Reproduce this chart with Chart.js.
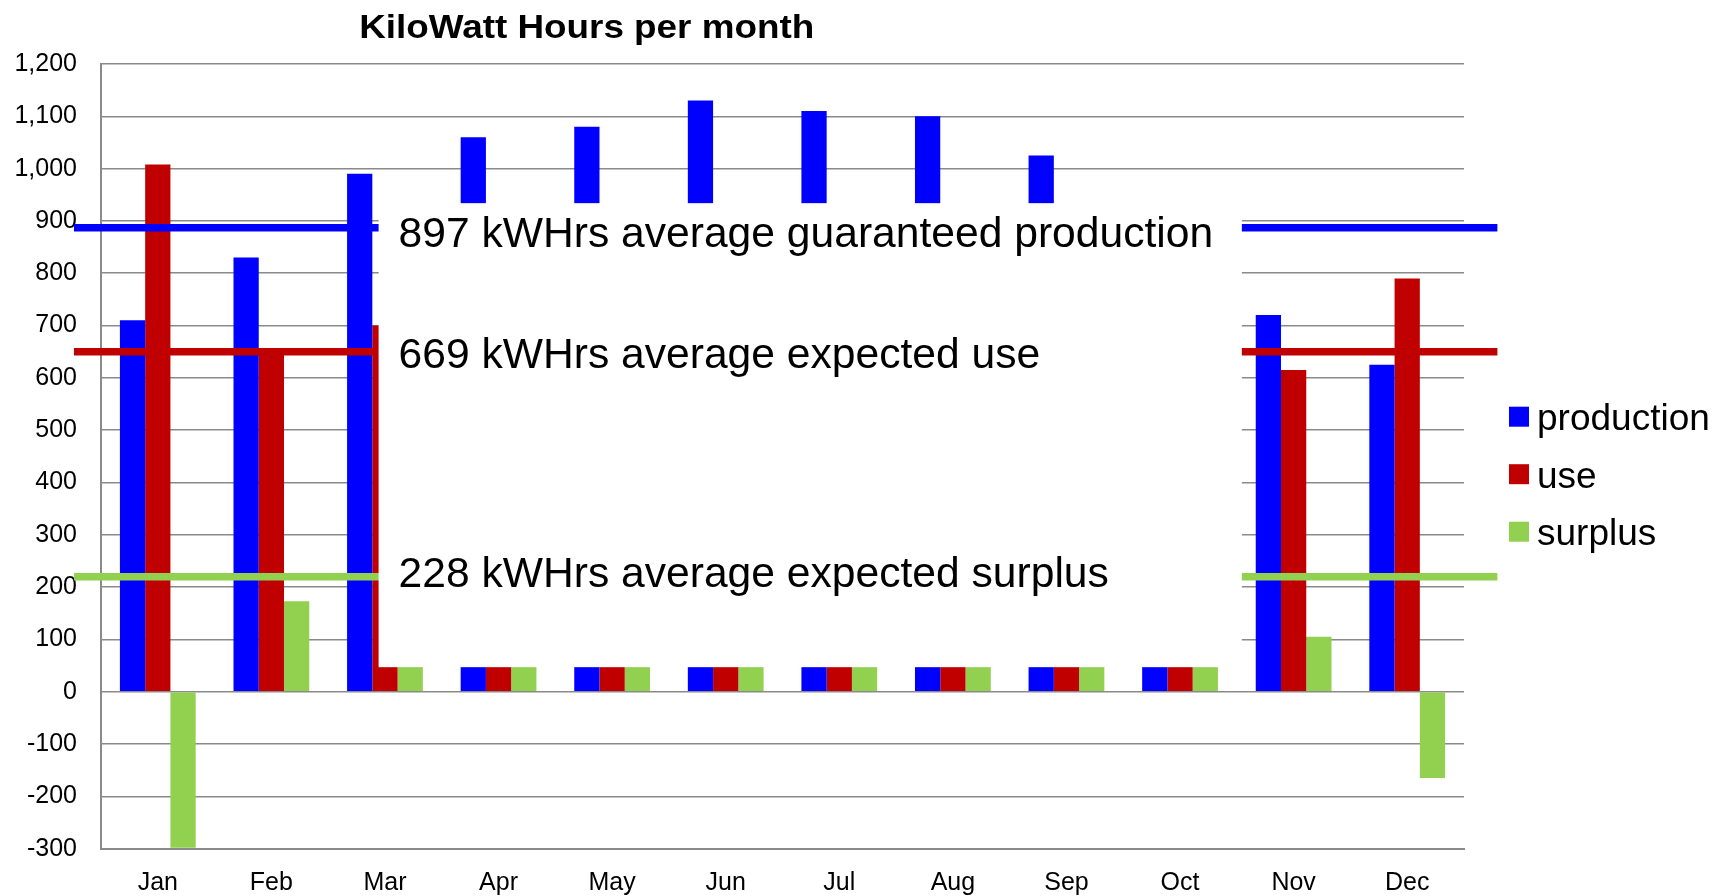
<!DOCTYPE html>
<html>
<head>
<meta charset="utf-8">
<script src="https://cdn.jsdelivr.net/npm/chart.js@4"></script>
<style>
  html, body { margin: 0; padding: 0; background: #fff; }
  #wrap { width: 1717px; height: 896px; }
</style>
</head>
<body>
<div id="wrap"><canvas id="myChart" width="1717" height="896"></canvas></div>
<script>
const months = ['Jan', 'Feb', 'Mar', 'Apr', 'May', 'Jun', 'Jul', 'Aug', 'Sep', 'Oct', 'Nov', 'Dec'];
const production = [710, 830, 990, 1060, 1080, 1130, 1110, 1100, 1025, 900, 720, 625];
const use = [1008, 657, 700, 580, 610, 640, 700, 690, 600, 560, 615, 790];
const surplus = [-298, 173, 290, 480, 470, 490, 410, 410, 425, 340, 105, -165];
const seriesNames = ['production', 'use', 'surplus'];

// average lines (value where drawn) and their captions
const avgValues = [887, 650, 220];
const avgLabels = [
    '897 kWHrs average guaranteed production',
    '669 kWHrs average expected use',
    '228 kWHrs average expected surplus'
];
const avgLabelBaselines = [851, 619, 200];

const yMin = -300, yMax = 1200, yStep = 100;

const FONT = "'Liberation Sans', Arial, Helvetica, sans-serif";
const colors = ['#0000ff', '#c00000', '#92d050'];

// white panel that hides the middle of the chart (category index / value units)
const panel = { xFrom: 1.944, xTo: 9.544, yFrom: 47, yTo: 934 };
const lineSpan = { xFrom: -0.738, xTo: 11.794 };

const overlay = {
    id: 'overlay',
    afterDatasetsDraw(chart) {
        const ctx = chart.ctx;
        const x = chart.scales.x, y = chart.scales.y;
        ctx.save();
        // average lines
        ctx.lineWidth = 7.5;
        avgValues.forEach((v, i) => {
            const py = y.getPixelForValue(v);
            ctx.strokeStyle = colors[i];
            ctx.beginPath();
            ctx.moveTo(x.getPixelForValue(lineSpan.xFrom), py);
            ctx.lineTo(x.getPixelForValue(lineSpan.xTo), py);
            ctx.stroke();
        });
        // white panel
        const left = x.getPixelForValue(panel.xFrom);
        const right = x.getPixelForValue(panel.xTo);
        const top = y.getPixelForValue(panel.yTo);
        const bottom = y.getPixelForValue(panel.yFrom);
        ctx.fillStyle = '#ffffff';
        ctx.fillRect(left, top, right - left, bottom - top);
        // captions
        ctx.fillStyle = '#000';
        ctx.font = '42.6px ' + FONT;
        ctx.textBaseline = 'alphabetic';
        ctx.textAlign = 'left';
        avgLabels.forEach((t, i) => {
            ctx.fillText(t, left + 20, y.getPixelForValue(avgLabelBaselines[i]));
        });
        ctx.restore();
    },
    afterDraw(chart) {
        const ctx = chart.ctx;
        ctx.save();
        // title
        ctx.font = 'bold 34px ' + FONT;
        ctx.fillStyle = '#000';
        ctx.textBaseline = 'alphabetic';
        ctx.textAlign = 'center';
        const title = 'KiloWatt Hours per month';
        const w = ctx.measureText(title).width;
        ctx.translate(586.7, 38);
        ctx.scale(455 / w, 1);
        ctx.fillText(title, 0, 0);
        ctx.restore();

        // legend
        ctx.save();
        ctx.font = '37px ' + FONT;
        ctx.textAlign = 'left';
        ctx.textBaseline = 'alphabetic';
        const lx = chart.chartArea.right + 45;
        chart.data.datasets.forEach((ds, i) => {
            const cy = 416.7 + i * 57.5;
            ctx.fillStyle = ds.backgroundColor;
            ctx.fillRect(lx, cy - 10, 20, 20);
            ctx.fillStyle = '#000';
            ctx.fillText(ds.label, lx + 28, cy + 13.3);
        });
        ctx.restore();
    }
};

const data = {
    labels: months,
    datasets: [
        { label: seriesNames[0], data: production, backgroundColor: colors[0] },
        { label: seriesNames[1], data: use, backgroundColor: colors[1] },
        { label: seriesNames[2], data: surplus, backgroundColor: colors[2] }
    ]
};

const config = {
    type: 'bar',
    data: data,
    plugins: [overlay],
    options: {
        responsive: false,
        animation: false,
        layout: { padding: { top: 64, right: 253, left: 0, bottom: 0 } },
        datasets: {
            bar: { barPercentage: 1, categoryPercentage: 0.667 }
        },
        plugins: {
            legend: { display: false },
            title: { display: false },
            tooltip: { enabled: false }
        },
        scales: {
            x: {
                afterFit(scale) { scale.height = 47.3; },
                grid: { display: false, drawTicks: false },
                border: { display: true, color: '#8a8a8a', width: 2 },
                ticks: { color: '#000', font: { family: FONT, size: 25 }, padding: 19 }
            },
            y: {
                min: yMin,
                max: yMax,
                afterFit(scale) { scale.width = 101; },
                grid: { color: '#8a8a8a', lineWidth: 1.6, drawTicks: false },
                border: { display: true, color: '#8a8a8a', width: 2 },
                ticks: {
                    stepSize: yStep,
                    color: '#000',
                    padding: 24,
                    font: { family: FONT, size: 25 },
                    callback: v => v.toLocaleString('en-US')
                }
            }
        }
    }
};

const ctx = document.getElementById('myChart');
new Chart(ctx, config);
</script>
</body>
</html>
